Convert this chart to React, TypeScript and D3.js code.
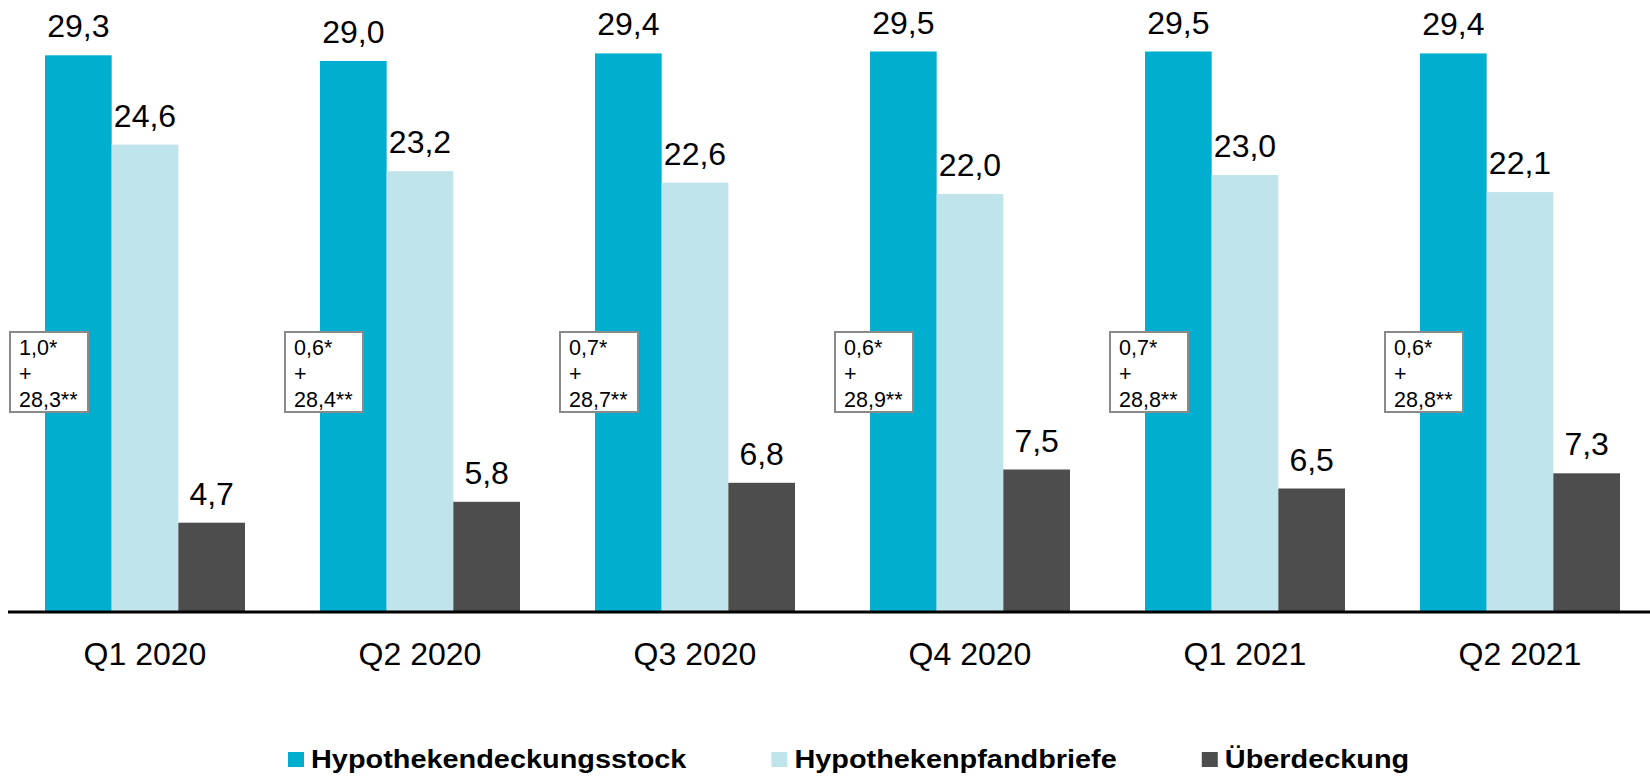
import React from "react";
import * as d3 from "d3";

const quarters = ["Q1 2020", "Q2 2020", "Q3 2020", "Q4 2020", "Q1 2021", "Q2 2021"];
const seriesNames = ["Hypothekendeckungsstock", "Hypothekenpfandbriefe", "Überdeckung"];
const deckungsstock = [29.3, 29.0, 29.4, 29.5, 29.5, 29.4];
const pfandbriefe = [24.6, 23.2, 22.6, 22.0, 23.0, 22.1];
const ueberdeckung = [4.7, 5.8, 6.8, 7.5, 6.5, 7.3];
const boxTop = ["1,0*", "0,6*", "0,7*", "0,6*", "0,7*", "0,6*"];
const boxBottom = ["28,3**", "28,4**", "28,7**", "28,9**", "28,8**", "28,8**"];
const colors = ["#00aed0", "#c0e4ec", "#4d4d4d"];

const W = 1650;
const H = 777;
const FONT = "'Liberation Sans', Arial, sans-serif";

export default class App extends React.Component {
    node: SVGSVGElement | null = null;

    componentDidMount() {
        this.drawChart();
    }

    drawChart() {
        const svg = d3.select(this.node);
        svg.selectAll("*").remove();

        const values = [deckungsstock, pfandbriefe, ueberdeckung];
        const rows = quarters.map((q, i) => ({
            q,
            vals: seriesNames.map((s, j) => ({ s, v: values[j][i], c: colors[j] })),
            top: boxTop[i],
            bottom: boxBottom[i],
        }));

        // 275px per quarter, 200px of bars, 75px gap
        const x = d3.scaleBand().domain(quarters).range([45, 1620]).paddingInner(75 / 275).paddingOuter(0);
        const xs = d3.scaleBand().domain(seriesNames).range([0, x.bandwidth()]);
        const y = d3.scaleLinear().domain([0, 30]).range([612, 42]);
        const fmt = (v: number) => d3.format(".1f")(v).replace(".", ",");

        const groups = svg.selectAll("g.grp")
            .data(rows)
            .enter().append("g")
            .attr("class", "grp")
            .attr("transform", d => `translate(${x(d.q)},0)`);

        groups.selectAll("rect.bar")
            .data(d => d.vals)
            .enter().append("rect")
            .attr("class", "bar")
            .attr("x", d => xs(d.s)!)
            .attr("y", d => y(d.v))
            .attr("width", xs.bandwidth())
            .attr("height", d => y(0) - y(d.v))
            .attr("fill", d => d.c);

        groups.selectAll("text.val")
            .data(d => d.vals)
            .enter().append("text")
            .attr("class", "val")
            .attr("x", d => xs(d.s)! + xs.bandwidth() / 2)
            .attr("y", d => y(d.v) - 18)
            .attr("text-anchor", "middle")
            .attr("font-family", FONT)
            .attr("font-size", 32)
            .attr("fill", "#000")
            .text(d => fmt(d.v));

        // little boxes with the split of the cover pool
        const box = groups.append("g").attr("transform", "translate(-35,332)");
        box.append("rect")
            .attr("width", 78)
            .attr("height", 80)
            .attr("fill", "#fff")
            .attr("stroke", "#8a8a8a")
            .attr("stroke-width", 2);
        const boxLines = (d: any) => [d.top, "+", d.bottom];
        box.selectAll("text")
            .data(d => boxLines(d))
            .enter().append("text")
            .attr("x", 9)
            .attr("y", (d, i) => 23 + i * 26)
            .attr("font-family", FONT)
            .attr("font-size", 21.5)
            .attr("fill", "#000")
            .text(d => d);

        // baseline
        svg.append("line")
            .attr("x1", 8)
            .attr("x2", W)
            .attr("y1", y(0))
            .attr("y2", y(0))
            .attr("stroke", "#000")
            .attr("stroke-width", 3);

        svg.selectAll("text.cat")
            .data(quarters)
            .enter().append("text")
            .attr("class", "cat")
            .attr("x", d => x(d)! + x.bandwidth() / 2)
            .attr("y", 665)
            .attr("text-anchor", "middle")
            .attr("font-family", FONT)
            .attr("font-size", 32)
            .attr("fill", "#000")
            .text(d => d);

        // legend
        const sx = 1.155;
        let lx = 288;
        seriesNames.forEach((s, i) => {
            const g = svg.append("g").attr("transform", `translate(${lx},0)`);
            g.append("rect")
                .attr("x", 0)
                .attr("y", 752)
                .attr("width", 16)
                .attr("height", 15)
                .attr("fill", colors[i]);
            const t = g.append("text")
                .attr("transform", `translate(23,768) scale(${sx},1)`)
                .attr("font-family", FONT)
                .attr("font-size", 25)
                .attr("font-weight", "bold")
                .attr("fill", "#000")
                .text(s);
            const len = (t.node() as SVGTextElement).getComputedTextLength() * sx;
            lx += 23 + len + 85;
        });
    }

    render() {
        return (
            <svg
                ref={n => { this.node = n; }}
                width={W}
                height={H}
                style={{ position: "absolute", left: 0, top: 0, background: "#fff" }}
            />
        );
    }
}
